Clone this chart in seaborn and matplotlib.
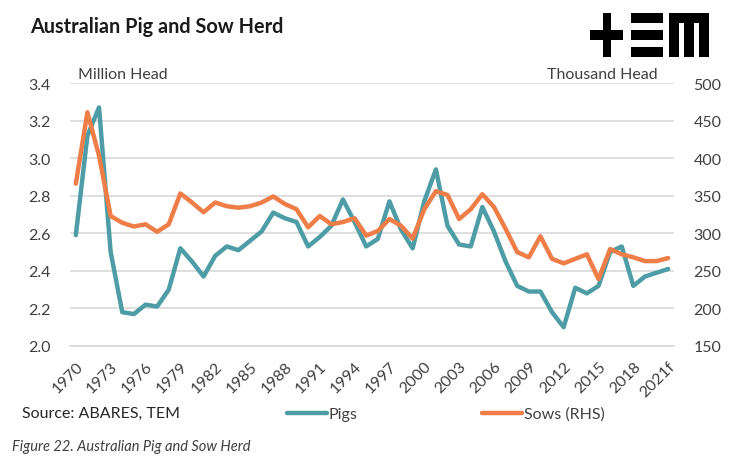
import matplotlib
matplotlib.use("Agg")
import matplotlib.pyplot as plt
from matplotlib.patches import Rectangle
import seaborn as sns
import pandas as pd
import numpy as np

years = [str(y) for y in range(1970, 2021)] + ["2021f"]
pigs = [2.59, 3.12, 3.27, 2.50, 2.18, 2.17, 2.22, 2.21, 2.30, 2.52,
        2.45, 2.37, 2.48, 2.53, 2.51, 2.56, 2.61, 2.71, 2.68, 2.66,
        2.53, 2.58, 2.64, 2.78, 2.66, 2.53, 2.57, 2.77, 2.62, 2.52,
        2.77, 2.94, 2.64, 2.54, 2.53, 2.74, 2.61, 2.45, 2.32, 2.29,
        2.29, 2.18, 2.10, 2.31, 2.28, 2.32, 2.50, 2.53, 2.32, 2.37,
        2.39, 2.41]
sows = [366, 461, 403, 323, 314, 309, 312, 302, 312, 353,
        341, 328, 341, 336, 334, 336, 341, 349, 339, 332,
        308, 323, 312, 315, 320, 297, 303, 319, 310, 293,
        332, 356, 351, 319, 332, 352, 335, 306, 275, 268,
        296, 266, 260, 266, 272, 239, 279, 272, 268, 263,
        263, 267]

teal = "#4E9CA6"
orange = "#EE7D47"
grey_text = "#404040"
grid_col = "#D9D9D9"

sns.set_style("white")
plt.rcParams['font.family'] = ['Lato', 'DejaVu Sans']

df = pd.DataFrame({"pos": np.arange(len(years)), "year": years, "pigs": pigs, "sows": sows})

W, H = 742, 464
fig = plt.figure(figsize=(W / 100, H / 100), dpi=100)
ax = fig.add_axes([70 / W, 1 - 347 / H, (674 - 70) / W, (347 - 84) / H])
ax2 = ax.twinx()

sns.lineplot(data=df, x="pos", y="pigs", ax=ax, color=teal, lw=3.2,
             solid_capstyle="round", solid_joinstyle="round", label="Pigs", legend=False)
sns.lineplot(data=df, x="pos", y="sows", ax=ax2, color=orange, lw=3.2,
             solid_capstyle="round", solid_joinstyle="round", label="Sows (RHS)", legend=False)

ax.set_ylim(2.0, 3.4)
ax.set_yticks(np.arange(2.0, 3.41, 0.2))
ax.set_yticklabels([f"{v:.1f}" for v in np.arange(2.0, 3.41, 0.2)])
ax2.set_ylim(150, 500)
ax2.set_yticks(range(150, 501, 50))
ax.set_xlim(-0.5, len(years) - 0.5)

ax.yaxis.grid(True, color=grid_col, lw=1.2)
ax.set_axisbelow(True)
for a in (ax, ax2):
    for s in a.spines.values():
        s.set_visible(False)
    a.set_xlabel("")
    a.set_ylabel("")
ax.spines["bottom"].set_visible(True)
ax.spines["bottom"].set_color(grid_col)
ax.spines["bottom"].set_linewidth(1.2)

ax.set_xticks(range(0, len(years), 3))
ax.set_xticklabels(years[::3], rotation=45, ha="right", va="top",
                   rotation_mode="anchor", fontsize=11.5, color=grey_text)
ax.set_xticks(np.arange(-0.5, len(years), 1), minor=True)
ax.tick_params(axis="x", which="major", length=0, pad=9)
ax.tick_params(axis="x", which="minor", length=4, color=grid_col, width=1, direction="out")
ax.tick_params(axis="y", length=0, labelsize=11.5, labelcolor=grey_text, pad=14)
ax2.tick_params(axis="y", length=0, labelsize=11.5, labelcolor=grey_text, pad=14)

fig.text(30 / W, 1 - 27 / H, "Australian Pig and Sow Herd", fontsize=14.3,
         fontweight="bold", color="#1a1a1a", va="center", ha="left")
fig.text(78 / W, 1 - 75 / H, "Million Head", fontsize=11.5, color=grey_text, va="center")
fig.text(658 / W, 1 - 75 / H, "Thousand Head", fontsize=11.5, color=grey_text,
         va="center", ha="right")
fig.text(22 / W, 1 - 414 / H, "Source: ABARES, TEM", fontsize=11.5, color="#262626", va="center")
fig.text(12 / W, 1 - 447 / H, "Figure 22. Australian Pig and Sow Herd", fontsize=10.5,
         style="italic", color="#404040", va="center")

handles = [ax.get_lines()[0], ax2.get_lines()[0]]
fig.legend(handles, ["Pigs", "Sows (RHS)"], ncol=2, loc="center",
           bbox_to_anchor=(446 / W, 1 - 415 / H), frameon=False, fontsize=11.5,
           handlelength=2.5, handletextpad=0.1, columnspacing=7.8,
           labelcolor=grey_text)

# logo
def rect(x0, y0, x1, y1):
    fig.patches.append(Rectangle((x0 / W, 1 - y1 / H), (x1 - x0) / W, (y1 - y0) / H,
                                 transform=fig.transFigure, color="black", lw=0))

rect(590, 31, 623, 41)
rect(603, 14, 611, 58)
for y0 in (14, 31, 48):
    rect(631, y0, 663, y0 + 10)
rect(669, 14, 709, 24)
for x0 in (669, 684, 699):
    rect(x0, 14, x0 + 10, 58)

fig.savefig("out.png", dpi=100)
